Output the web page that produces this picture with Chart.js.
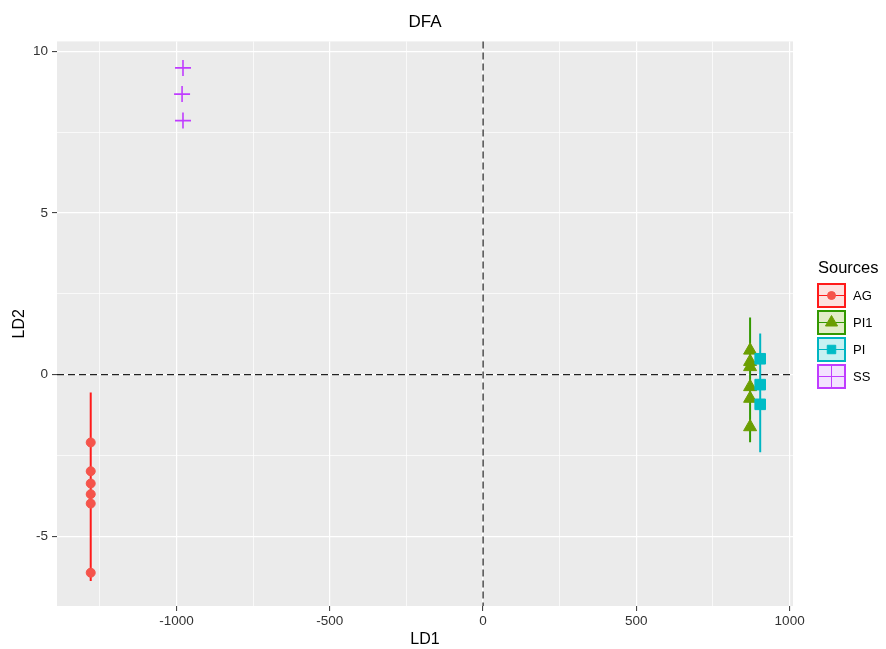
<!DOCTYPE html>
<html>
<head>
<meta charset="utf-8">
<script src="https://cdn.jsdelivr.net/npm/chart.js@4/dist/chart.umd.min.js"></script>
<style>
  html, body { margin: 0; padding: 0; background: #fff; }
  #wrap { width: 886px; height: 649px; position: relative; }
</style>
</head>
<body>
<div id="wrap"><canvas id="chart" width="886" height="649"></canvas></div>
<script>
// values
var sources = ['AG', 'PI1', 'PI', 'SS'];

var agX = [-1280, -1280, -1280, -1280, -1280, -1280];
var agY = [-2.10, -2.99, -3.37, -3.70, -3.99, -6.13];
var agRange = [-0.55, -6.39];

var pi1X = [871, 871, 871, 871, 871, 871];
var pi1Y = [0.75, 0.40, 0.24, -0.38, -0.74, -1.62];
var pi1Range = [1.77, -2.09];

var piX = [904, 904, 904];
var piY = [0.49, -0.31, -0.92];
var piRange = [1.27, -2.40];

var ssX = [-979, -982, -979];
var ssY = [9.49, 8.68, 7.86];

var xTicks = [-1000, -500, 0, 500, 1000];
var yTicks = [-5, 0, 5, 10];

var lineCols = ['#ff1a1a', '#339900', '#00b5c2', '#c03cff'];
var pointCols = ['#f5544b', '#6b9e00', '#00bcc6', '#c03cff'];
var fillCols = ['rgba(248,118,109,0.22)', 'rgba(124,174,0,0.22)', 'rgba(0,191,196,0.22)', 'rgba(199,124,255,0.22)'];
var shapes = ['circle', 'triangle', 'rect', 'cross'];
var radii = [4.5, 7.5, 7.5, 8];
var keyRadii = [4, 7, 6, 0];

function pts(xs, ys) {
  return xs.map(function(x, i) { return { x: x, y: ys[i] }; });
}

var FONT = '"Liberation Sans", Arial, sans-serif';

var panelPlugin = {
  id: 'panel',
  beforeDraw: function(chart) {
    var a = chart.chartArea, ctx = chart.ctx;
    ctx.save();
    ctx.fillStyle = '#ebebeb';
    ctx.fillRect(a.left, a.top, a.right - a.left, a.bottom - a.top);
    ctx.restore();
  },
  beforeDatasetsDraw: function(chart) {
    var a = chart.chartArea, ctx = chart.ctx;
    var x0 = chart.scales.x.getPixelForValue(0);
    var y0 = chart.scales.y.getPixelForValue(0);
    ctx.save();
    ctx.strokeStyle = '#222';
    ctx.lineWidth = 1.2;
    ctx.setLineDash([7, 4]);
    ctx.beginPath();
    ctx.moveTo(x0, a.top); ctx.lineTo(x0, a.bottom);
    ctx.moveTo(a.left, y0); ctx.lineTo(a.right, y0);
    ctx.stroke();
    ctx.restore();
  },
  afterDraw: function(chart) {
    var ctx = chart.ctx;
    ctx.save();
    ctx.fillStyle = '#000';
    ctx.font = '16.5px ' + FONT;
    ctx.textBaseline = 'middle';
    ctx.textAlign = 'left';
    ctx.fillText('Sources', 818, 268);
    sources.forEach(function(s, i) {
      var top = 284 + i * 27, left = 818, w = 27, h = 23;
      var cx = left + w / 2, cy = top + h / 2;
      ctx.fillStyle = '#fff';
      ctx.fillRect(left, top, w, h);
      ctx.fillStyle = fillCols[i];
      ctx.fillRect(left, top, w, h);
      ctx.strokeStyle = lineCols[i];
      ctx.lineWidth = 2;
      ctx.strokeRect(left, top, w, h);
      ctx.lineWidth = 1;
      ctx.beginPath();
      ctx.moveTo(left, cy); ctx.lineTo(left + w, cy);
      if (i === 3) { ctx.moveTo(cx, top); ctx.lineTo(cx, top + h); }
      ctx.stroke();
      if (i < 3) {
        ctx.fillStyle = pointCols[i];
        ctx.strokeStyle = pointCols[i];
        Chart.helpers.drawPoint(ctx, {
          pointStyle: shapes[i], radius: keyRadii[i], rotation: 0,
          borderWidth: 1
        }, cx, cy);
      }
      ctx.fillStyle = '#000';
      ctx.font = '13px ' + FONT;
      ctx.fillText(s, 853, cy + 1);
    });
    ctx.restore();
  }
};

function rangeSet(x, r, col) {
  return {
    type: 'scatter', showLine: true, data: [{ x: x, y: r[0] }, { x: x, y: r[1] }],
    borderColor: col, borderWidth: 2, pointRadius: 0, order: 10
  };
}

function pointSet(label, xs, ys, i) {
  return {
    label: label, data: pts(xs, ys), pointStyle: shapes[i], pointRadius: radii[i],
    backgroundColor: pointCols[i], borderColor: pointCols[i],
    borderWidth: i === 3 ? 1.6 : 1, order: 5 - i
  };
}

function isMajor(v, list) { return list.indexOf(v) !== -1; }

var ctx = document.getElementById('chart').getContext('2d');
var chart = new Chart(ctx, {
  type: 'scatter',
  data: {
    datasets: [
      rangeSet(agX[0], agRange, lineCols[0]),
      rangeSet(pi1X[0], pi1Range, lineCols[1]),
      rangeSet(piX[0], piRange, lineCols[2]),
      pointSet('AG', agX, agY, 0),
      pointSet('PI1', pi1X, pi1Y, 1),
      pointSet('PI', piX, piY, 2),
      pointSet('SS', ssX, ssY, 3)
    ]
  },
  plugins: [panelPlugin],
  options: {
    responsive: false,
    animation: false,
    layout: { padding: { right: 93, left: 0, top: 0, bottom: 0 } },
    plugins: {
      legend: { display: false },
      tooltip: { enabled: false },
      title: {
        display: true, text: 'DFA', color: '#000', fullSize: false,
        font: { family: FONT, size: 17, weight: 'normal' },
        padding: { top: 12, bottom: 9 }
      }
    },
    scales: {
      x: {
        type: 'linear', min: -1390, max: 1011,
        afterFit: function(s) { s.height = 43; },
        border: { display: false },
        grid: {
          color: '#fff',
          lineWidth: function(c) { return isMajor(c.tick.value, xTicks) ? 1.2 : 0.7; },
          tickColor: function(c) { return isMajor(c.tick.value, xTicks) ? '#333' : 'rgba(0,0,0,0)'; },
          tickLength: 5,
          tickWidth: 1
        },
        ticks: {
          stepSize: 250, includeBounds: false, autoSkip: false, maxRotation: 0,
          color: '#333', padding: 2,
          font: { family: FONT, size: 13.5 },
          callback: function(v) { return isMajor(v, xTicks) ? String(v) : ''; }
        },
        title: {
          display: true, text: 'LD1', color: '#000',
          font: { family: FONT, size: 16 }, padding: { top: 0, bottom: 0 }
        }
      },
      y: {
        type: 'linear', min: -7.16, max: 10.31,
        afterFit: function(s) { s.width = 57; },
        border: { display: false },
        grid: {
          color: '#fff',
          lineWidth: function(c) { return isMajor(c.tick.value, yTicks) ? 1.2 : 0.7; },
          tickColor: function(c) { return isMajor(c.tick.value, yTicks) ? '#333' : 'rgba(0,0,0,0)'; },
          tickLength: 5,
          tickWidth: 1
        },
        ticks: {
          stepSize: 2.5, includeBounds: false, autoSkip: false,
          color: '#333', padding: 4,
          font: { family: FONT, size: 13.5 },
          callback: function(v) { return isMajor(v, yTicks) ? String(v) : ''; }
        },
        title: {
          display: true, text: 'LD2', color: '#000',
          font: { family: FONT, size: 16 }, padding: { top: 10, bottom: 0 }
        }
      }
    }
  }
});
</script>
</body>
</html>
